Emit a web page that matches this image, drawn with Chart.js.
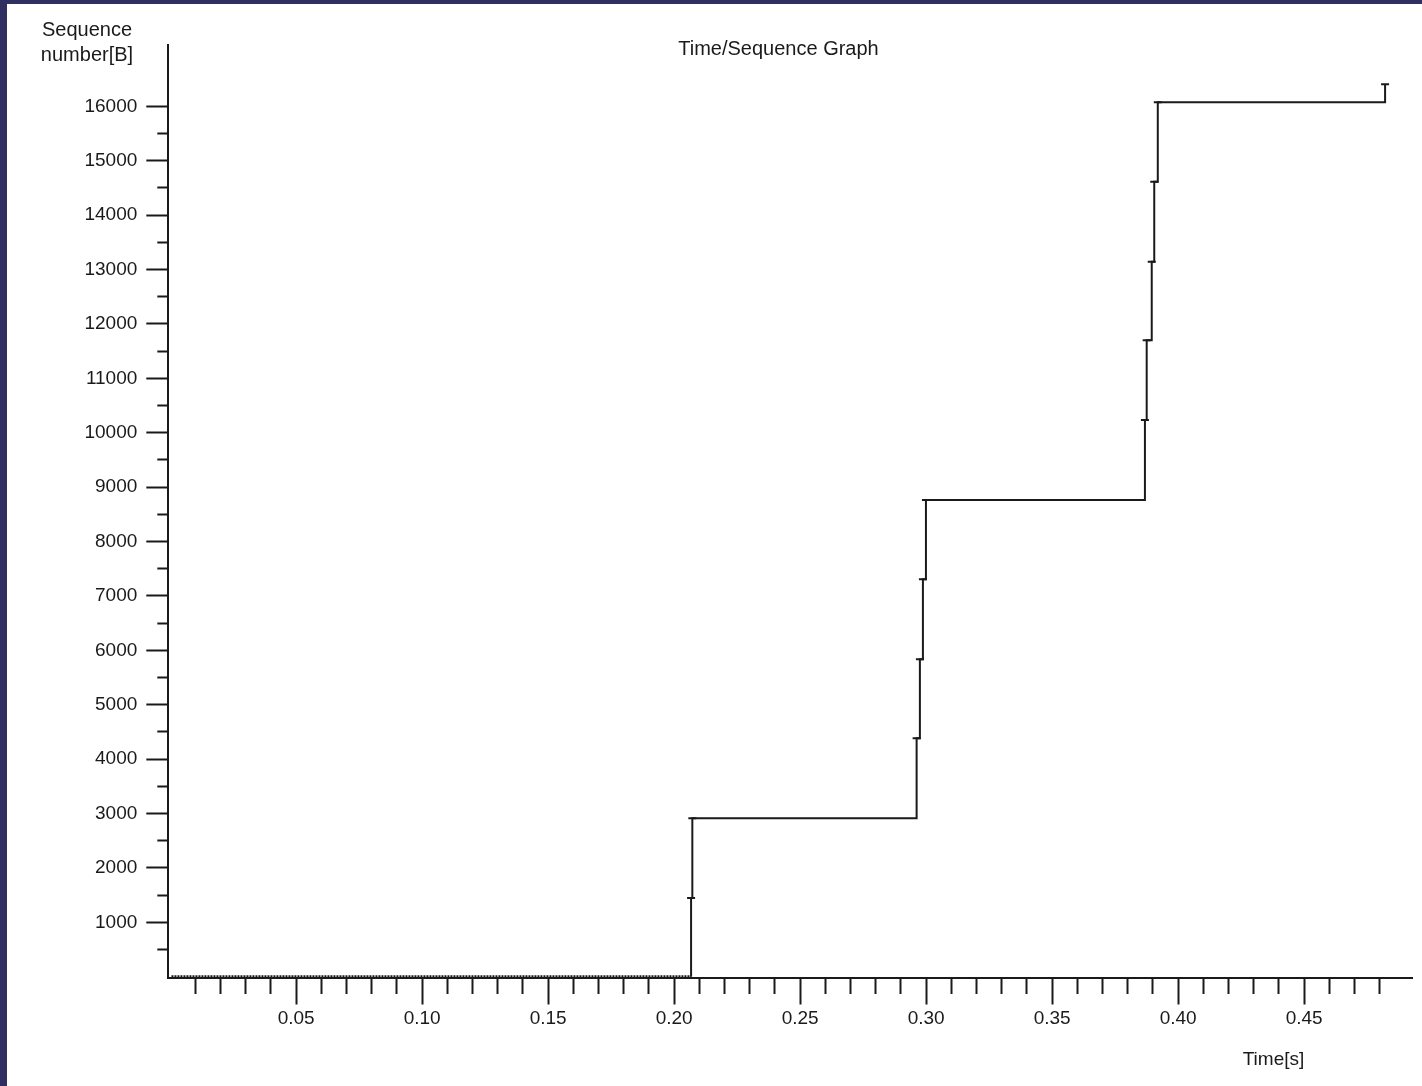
<!DOCTYPE html>
<html>
<head>
<meta charset="utf-8">
<script src="https://cdn.jsdelivr.net/npm/chart.js@4.4.0/dist/chart.umd.min.js"></script>
<style>
  html, body { margin: 0; padding: 0; background: #2f3061; width: 1422px; height: 1086px; overflow: hidden; }
  #wrap { position: absolute; left: 7px; top: 4px; width: 1415px; height: 1082px; background: #fff; }
</style>
</head>
<body>
<div id="wrap"><canvas id="seqchart"></canvas></div>
<script>
// segment times (s) and sequence numbers at the top of each step
var times = [0.2067, 0.2067, 0.2072, 0.2962, 0.2975, 0.2987, 0.2999, 0.3868, 0.3875, 0.3895, 0.3905, 0.3919, 0.4821];
var seqs  = [0, 1447, 2912, 4382, 5835, 7305, 8763, 10233, 11699, 13143, 14614, 16073, 16407];

// zero-length packets along the bottom before the first data segment
var baseTimes = [0.0005, 0.2067];
var baseSeqs  = [0, 0];

var xRange = [-0.00075, 0.49278];
var yRange = [-15, 17127];

// axis ticks: labelled ones and the step of the small ones between them
var xLabels = ['0.05', '0.10', '0.15', '0.20', '0.25', '0.30', '0.35', '0.40', '0.45'];
var xMinorStep = 0.01, xLastTick = 0.48;
var yLabels = ['1000', '2000', '3000', '4000', '5000', '6000', '7000', '8000',
               '9000', '10000', '11000', '12000', '13000', '14000', '15000', '16000'];
var yMinorStep = 500, yLastTick = 16000;

var FONT = "'Liberation Sans', Arial, sans-serif";
var INK = '#1a1a1a';

function tickList(step, last) {
  var out = [];
  for (var i = 1; i * step <= last + step / 100; i++) out.push({value: Math.round(i * step * 1e6) / 1e6});
  return out;
}

function isLabelled(labels, v) {
  return labels.some(function (l) { return Math.abs(parseFloat(l) - v) < 1e-6; });
}

function generateSeqChart(canvasId) {
  var stepPoints = times.map(function (t, i) { return {x: t, y: seqs[i]}; });
  var capPoints = stepPoints.slice(1);
  var basePoints = baseTimes.map(function (t, i) { return {x: t, y: baseSeqs[i]}; });

  var textPlugin = {
    id: 'graphText',
    afterDraw: function (chart) {
      var ctx = chart.ctx;
      ctx.save();
      ctx.fillStyle = INK;
      ctx.textAlign = 'center';
      ctx.textBaseline = 'alphabetic';
      ctx.font = '20px ' + FONT;
      ctx.fillText('Sequence', 80, 31.5);
      ctx.fillText('number[B]', 80, 57);
      ctx.fillText('Time/Sequence Graph', 771.5, 51);
      ctx.font = '19px ' + FONT;
      ctx.fillText('Time[s]', 1266.5, 1061);
      ctx.restore();
    }
  };

  new Chart(canvasId, {
    type: 'scatter',
    data: {
      datasets: [{
        data: basePoints,
        showLine: true,
        borderColor: INK,
        borderWidth: 3,
        borderDash: [2, 1],
        pointRadius: 0
      }, {
        data: stepPoints,
        showLine: true,
        stepped: 'before',
        borderColor: INK,
        borderWidth: 2,
        pointRadius: 0
      }, {
        data: capPoints,
        showLine: false,
        pointStyle: 'line',
        pointRadius: 4,
        borderColor: INK,
        borderWidth: 2
      }]
    },
    plugins: [textPlugin],
    options: {
      responsive: true,
      maintainAspectRatio: false,
      animation: false,
      layout: { padding: { left: 0, top: 41, right: 10, bottom: 0 } },
      plugins: {
        legend: { display: false },
        tooltip: { enabled: false },
        title: { display: false }
      },
      scales: {
        x: {
          type: 'linear',
          min: xRange[0],
          max: xRange[1],
          afterBuildTicks: function (scale) { scale.ticks = tickList(xMinorStep, xLastTick); },
          afterFit: function (scale) { scale.height = 108.5; },
          border: { display: true, color: INK, width: 2 },
          grid: {
            drawOnChartArea: false,
            drawTicks: true,
            tickLength: 27,
            tickWidth: 2,
            tickColor: INK,
            tickBorderDash: function (c) {
              return isLabelled(xLabels, c.tick.value) ? [] : [15, 100];
            }
          },
          ticks: {
            autoSkip: false,
            maxRotation: 0,
            minRotation: 0,
            padding: 3,
            color: INK,
            font: { family: FONT, size: 19 },
            callback: function (v) {
              var hit = xLabels.filter(function (l) { return Math.abs(parseFloat(l) - v) < 1e-6; });
              return hit.length ? hit[0] : '';
            }
          }
        },
        y: {
          type: 'linear',
          min: yRange[0],
          max: yRange[1],
          afterBuildTicks: function (scale) { scale.ticks = tickList(yMinorStep, yLastTick); },
          afterFit: function (scale) { scale.width = 161.3; },
          border: { display: true, color: INK, width: 2 },
          grid: {
            drawOnChartArea: false,
            drawTicks: true,
            tickLength: 22,
            tickWidth: 2,
            tickColor: INK,
            tickBorderDash: function (c) {
              return isLabelled(yLabels, c.tick.value) ? [] : [0, 11, 11, 100];
            }
          },
          ticks: {
            autoSkip: false,
            padding: 9,
            color: INK,
            font: { family: FONT, size: 19 },
            callback: function (v) {
              var hit = yLabels.filter(function (l) { return Math.abs(parseFloat(l) - v) < 1e-6; });
              return hit.length ? hit[0] : '';
            }
          }
        }
      }
    }
  });
}

document.addEventListener('DOMContentLoaded', function () {
  generateSeqChart('seqchart');
});
</script>
</body>
</html>
